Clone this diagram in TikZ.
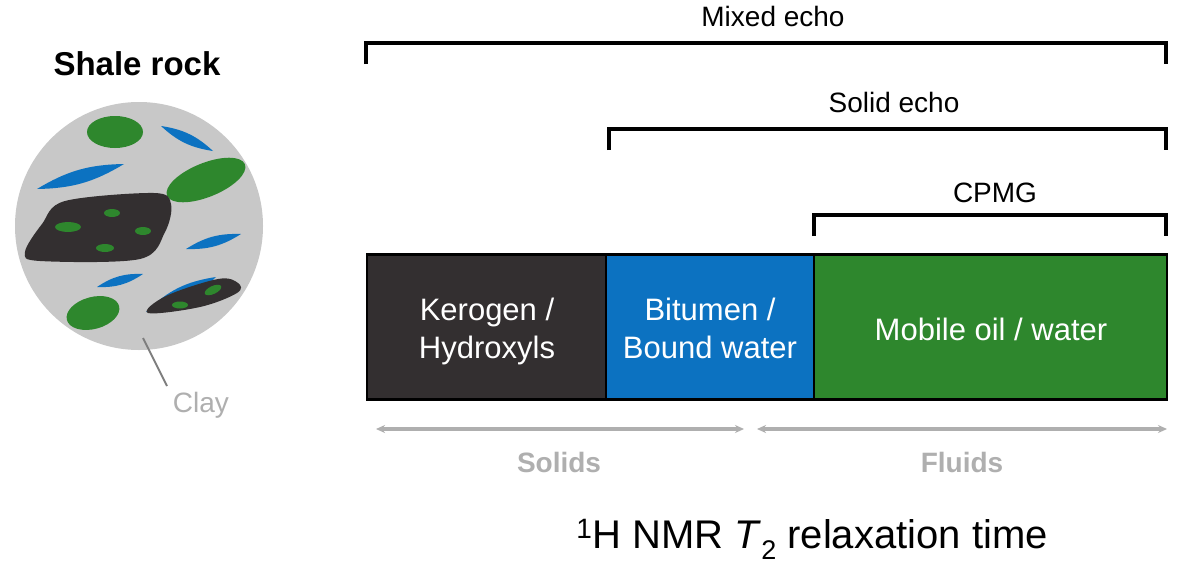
\documentclass[tikz,border=0pt]{standalone}
\usepackage{fontspec}
\setmainfont{Liberation Sans}
\usetikzlibrary{arrows.meta}
\definecolor{darkc}{RGB}{51,47,48}
\definecolor{bluec}{RGB}{12,114,193}
\definecolor{greenc}{RGB}{46,135,45}
\definecolor{clayc}{RGB}{200,200,200}
\definecolor{lightg}{RGB}{175,175,175}
\definecolor{lineg}{RGB}{125,125,125}
\tikzset{
  lbl/.style={anchor=base, inner sep=0pt, font=\fontsize{28}{34}\selectfont},
  bracket/.style={draw=black, line width=3.2pt, line join=miter},
  seg/.style={draw=black, line width=2.6pt, rectangle, minimum height=145pt, inner sep=0pt},
  segtxt/.style={anchor=base, inner sep=0pt, text=white, font=\fontsize{31}{38}\selectfont},
  spanarrow/.style={draw=lightg, line width=3.2pt, {Stealth[length=9pt,width=8pt]}-{Stealth[length=9pt,width=8pt]}},
  rangelbl/.style={anchor=base, inner sep=0pt, text=lightg, font=\bfseries\fontsize{28}{34}\selectfont},
}
\begin{document}
\begin{tikzpicture}[x=1pt,y=-1pt]
\useasboundingbox (0,0) rectangle (1177,570);
\fill[white] (0,0) rectangle (1177,570);

% ---- Shale rock ----
\node[anchor=base, inner sep=0pt, font=\bfseries\fontsize{33}{40}\selectfont] (shale) at (137,75) {Shale rock};
\fill[clayc] (139,226) circle[radius=124];
% green grains
\fill[greenc] (115,132) ellipse[x radius=28, y radius=16];
\fill[greenc, rotate around={22:(206,180)}] (206,180) ellipse[x radius=42, y radius=17];
\fill[greenc, rotate around={15:(93,313)}] (93,313) ellipse[x radius=27, y radius=16];
% blue slivers
\fill[bluec] (161,126) to[bend left=17] (213,151) to[bend left=17] (161,126);
\fill[bluec] (37,189) to[bend left=15] (124,164) to[bend left=15] (37,189);
\fill[bluec] (186,249) to[bend left=17] (241,234) to[bend left=17] (186,249);
\fill[bluec] (97,287) to[bend left=18] (143,274) to[bend left=18] (97,287);
\fill[bluec] (146,312) to[bend left=18] (216,277) to[bend left=18] (146,312);
% big kerogen blob
\fill[darkc] plot[smooth cycle, tension=0.55] coordinates
  {(25,252) (40,261) (140,259) (165,232) (171,204) (154,193) (65,201) (42,224)};
\fill[greenc] (68,227) ellipse[x radius=13, y radius=5];
\fill[greenc] (112,213) ellipse[x radius=8, y radius=4];
\fill[greenc] (143,231) ellipse[x radius=8, y radius=4];
\fill[greenc] (105,248) ellipse[x radius=9, y radius=4];
% small kerogen blob
\fill[darkc] plot[smooth cycle, tension=0.6] coordinates
  {(148,313) (200,307) (237,293) (238,283) (218,279) (166,296)};
\fill[greenc, rotate around={25:(213,290)}] (213,290) ellipse[x radius=9, y radius=4];
\fill[greenc] (180,305) ellipse[x radius=8, y radius=3.5];
% clay label
\coordinate (clayA) at (143,338);
\node[anchor=base, inner sep=0pt, text=lightg, font=\fontsize{28}{34}\selectfont] (clay) at (201,412) {Clay};
\coordinate (clayB) at (167,386);
\draw[lineg, line width=2pt] (clayA) -- (clayB);

% ---- Brackets ----
\node[lbl] (mixed) at (773,27) {Mixed echo};
\coordinate (mxL) at (366,64);
\coordinate (mxR) at (1166,64);
\draw[bracket] (mxL) -- ++(0,-21) -| (mxR);

\node[lbl] (solid) at (894,112) {Solid echo};
\coordinate (soL) at (609,150);
\coordinate (soR) at (1166,150);
\draw[bracket] (soL) -- ++(0,-21) -| (soR);

\node[lbl] (cpmg) at (995,202) {CPMG};
\coordinate (cpL) at (814,236);
\coordinate (cpR) at (1166,236);
\draw[bracket] (cpL) -- ++(0,-21) -| (cpR);

% ---- Bar ----
\node[seg, fill=darkc, minimum width=239pt] (kero) at (486.5,327) {};
\node[seg, fill=bluec, minimum width=208pt] (bitu) at (710,327) {};
\node[seg, fill=greenc, minimum width=353pt] (mobi) at (990.5,327) {};
\node[segtxt] (keroT1) at (487,320) {Kerogen /};
\node[segtxt] (keroT2) at (487,358) {Hydroxyls};
\node[segtxt] (bituT1) at (710,320) {Bitumen /};
\node[segtxt] (bituT2) at (710,358) {Bound water};
\node[segtxt] (mobiT) at (991,340) {Mobile oil / water};

% ---- Solids / Fluids ----
\coordinate (soA) at (376,429);
\coordinate (soB) at (744,429);
\coordinate (flA) at (757,429);
\coordinate (flB) at (1167,429);
\draw[spanarrow] (soA) -- (soB);
\draw[spanarrow] (flA) -- (flB);
\node[rangelbl] (solids) at (559,472) {Solids};
\node[rangelbl] (fluids) at (962,472) {Fluids};

% ---- Axis title ----
\node[anchor=base, inner sep=0pt, font=\fontsize{40}{48}\selectfont] (title) at (812,548)
  {\textsuperscript{1}H NMR \textit{T}\raisebox{-0.28em}{\fontsize{27}{30}\selectfont 2} relaxation time};
\end{tikzpicture}
\end{document}
